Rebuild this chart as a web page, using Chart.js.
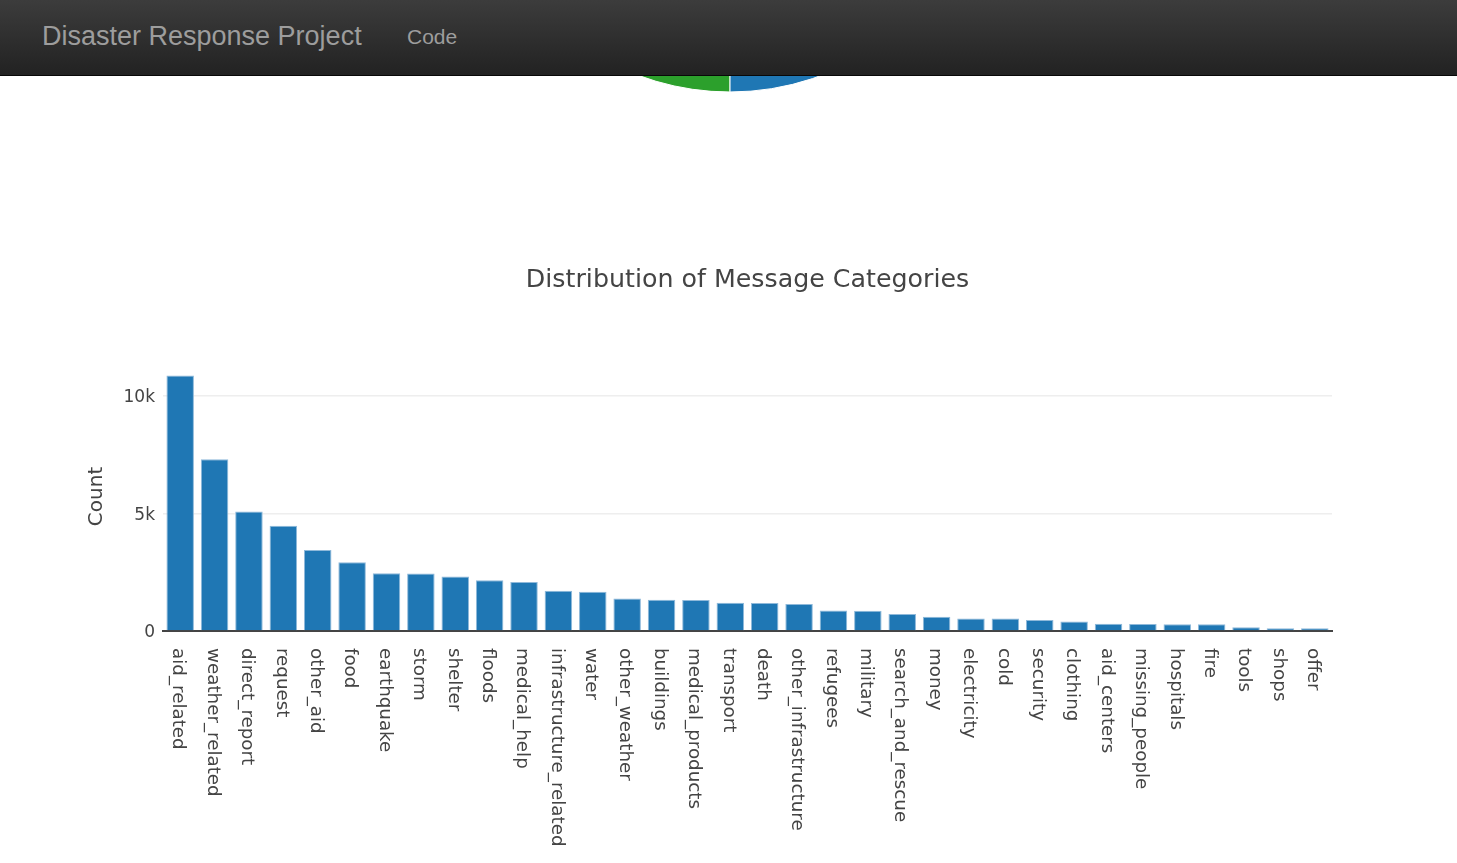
<!DOCTYPE html>
<html>
<head>
<meta charset="utf-8">
<title>Disaster Response Project</title>
<script src="https://cdn.jsdelivr.net/npm/chart.js@4.4.0/dist/chart.umd.min.js"></script>
<style>
    html, body { margin: 0; padding: 0; background: #fff; overflow: hidden; }
    body { width: 1457px; height: 863px; position: relative; }
    .navbar {
        position: absolute; top: 0; left: 0; width: 1457px; height: 75px;
        background: linear-gradient(to bottom, #3c3c3c 0%, #222 100%);
        border-bottom: 1px solid #080808;
        z-index: 10;
    }
    .brand {
        position: absolute; left: 42px; top: 21px;
        font: 27px "Liberation Sans", Arial, sans-serif; color: #9d9d9d;
    }
    .nav-link {
        position: absolute; left: 407px; top: 25px;
        font: 21px "Liberation Sans", Arial, sans-serif; color: #9d9d9d;
    }
    #genres { position: absolute; left: 450px; top: -449px; z-index: 1; }
    #categories { position: absolute; left: 0; top: 240px; }
</style>
</head>
<body>
<div class="navbar">
    <span class="brand">Disaster Response Project</span>
    <span class="nav-link">Code</span>
</div>
<canvas id="genres" width="560" height="560"></canvas>
<canvas id="categories" width="1457" height="623"></canvas>

<script>
// genre pie (only the bottom edge shows under the navbar)
const genreNames = ['direct', 'social', 'news'];
const genreCounts = [10766, 2396, 13054];
const genreColors = ['#1f77b4', '#2ca02c', '#ff7f0e'];

// message categories, sorted by count
const categories = ['aid_related', 'weather_related', 'direct_report', 'request', 'other_aid',
    'food', 'earthquake', 'storm', 'shelter', 'floods', 'medical_help', 'infrastructure_related',
    'water', 'other_weather', 'buildings', 'medical_products', 'transport', 'death',
    'other_infrastructure', 'refugees', 'military', 'search_and_rescue', 'money', 'electricity',
    'cold', 'security', 'clothing', 'aid_centers', 'missing_people', 'hospitals', 'fire',
    'tools', 'shops', 'offer'];
const categoryCounts = [10860, 7297, 5075, 4474, 3446,
    2923, 2455, 2443, 2314, 2155, 2084, 1705,
    1672, 1376, 1333, 1313, 1201, 1194,
    1151, 875, 860, 724, 604, 532,
    530, 471, 405, 309, 298, 283, 282,
    159, 120, 118];
const yTicks = [0, 5000, 10000];
const yMax = 11432;

const FONT = '"DejaVu Sans", Verdana, sans-serif';

new Chart(document.getElementById('genres').getContext('2d'), {
    type: 'pie',
    data: {
        labels: genreNames,
        datasets: [{
            data: genreCounts,
            backgroundColor: genreColors,
            borderColor: '#fff',
            borderWidth: 1,
            radius: 261,
        }],
    },
    options: {
        responsive: false,
        animation: false,
        devicePixelRatio: 1,
        rotation: 32.2,
        plugins: { legend: { display: false }, tooltip: { enabled: false } },
    },
});

// plotly style labels: rotated clockwise, reading downwards
const xLabels = {
    id: 'xLabels',
    afterDraw(chart) {
        const { ctx, chartArea } = chart;
        const x = chart.scales.x;
        ctx.save();
        ctx.font = '18.3px ' + FONT;
        ctx.fillStyle = '#444';
        ctx.textAlign = 'left';
        ctx.textBaseline = 'middle';
        categories.forEach((name, i) => {
            ctx.save();
            ctx.translate(x.getPixelForTick(i) - 2, chartArea.bottom + 17);
            ctx.rotate(Math.PI / 2);
            ctx.fillText(name, 0, 0);
            ctx.restore();
        });
        ctx.restore();
    },
};

new Chart(document.getElementById('categories').getContext('2d'), {
    type: 'bar',
    data: {
        labels: categories,
        datasets: [{
            data: categoryCounts,
            backgroundColor: '#1f77b4',
            borderColor: '#8fb9da',
            borderWidth: 1,
            categoryPercentage: 1,
            barPercentage: 0.8,
        }],
    },
    options: {
        responsive: false,
        animation: false,
        devicePixelRatio: 1,
        layout: { padding: { left: 0, right: 125, top: 0, bottom: 0 } },
        plugins: {
            legend: { display: false },
            tooltip: { enabled: false },
            title: {
                display: true,
                fullSize: false,
                text: 'Distribution of Message Categories',
                color: '#444',
                font: { family: FONT, size: 25.3, weight: 'normal' },
                padding: { top: 25, bottom: 66.6 },
            },
        },
        scales: {
            x: {
                ticks: { display: false },
                grid: { display: false },
                border: { display: true, color: '#444', width: 2 },
                afterFit(scale) { scale.height = 232; },
            },
            y: {
                min: 0,
                max: yMax,
                afterBuildTicks(scale) { scale.ticks = yTicks.map((v) => ({ value: v })); },
                ticks: {
                    color: '#444',
                    font: { family: FONT, size: 17 },
                    padding: 8,
                    labelOffset: 2,
                    callback: (v) => (v === 0 ? '0' : v / 1000 + 'k'),
                },
                grid: {
                    color: (c) => (c.tick && c.tick.value === 0 ? 'rgba(0,0,0,0)' : '#eee'),
                    lineWidth: 1.5,
                    drawTicks: false,
                },
                border: { display: false },
                title: {
                    display: true,
                    text: 'Count',
                    color: '#444',
                    font: { family: FONT, size: 20 },
                    padding: { top: 85, bottom: 0 },
                },
                afterFit(scale) { scale.width = 163; },
            },
        },
    },
    plugins: [xLabels],
});
</script>
</body>
</html>
